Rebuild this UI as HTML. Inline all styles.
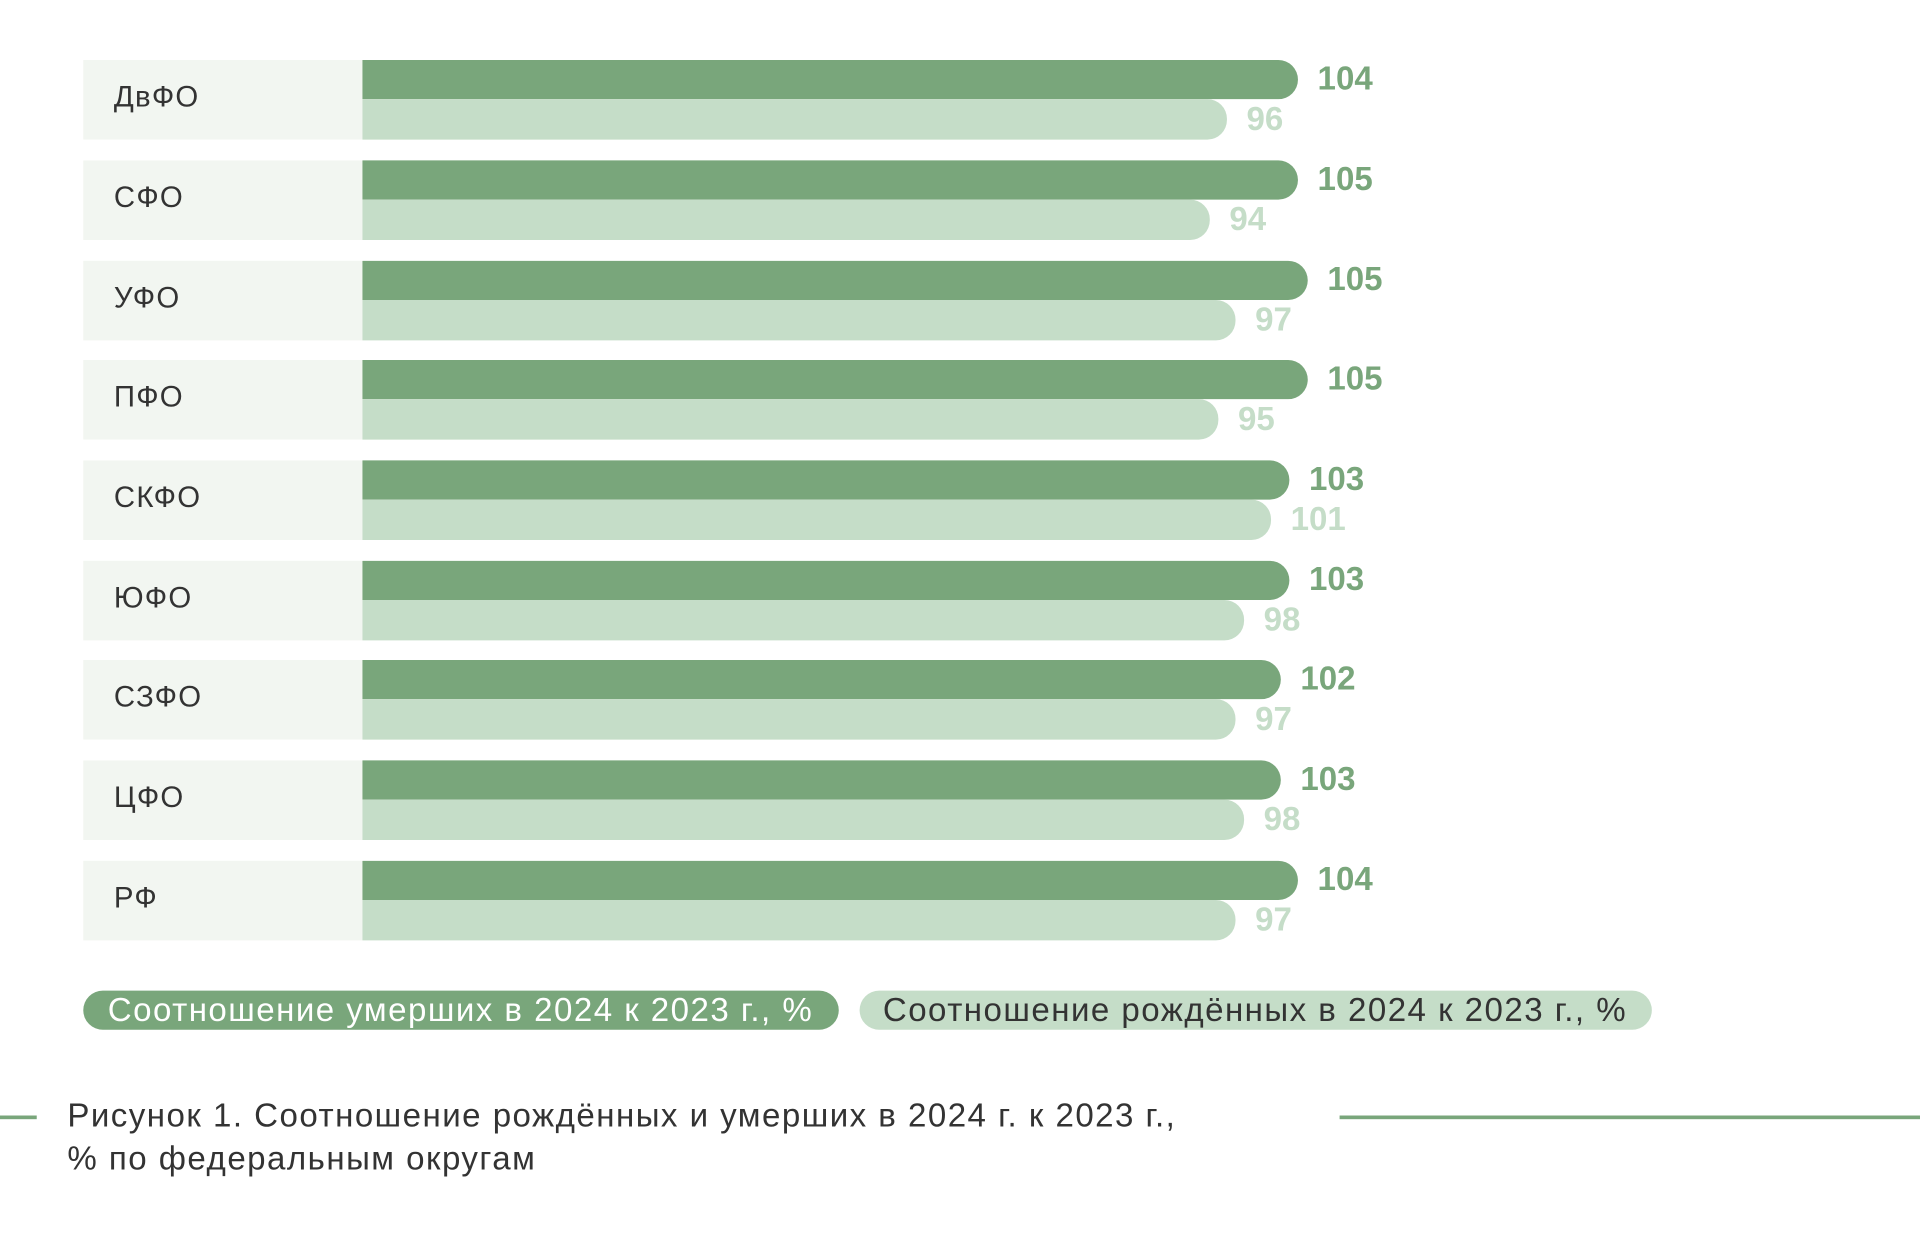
<!DOCTYPE html>
<html><head><meta charset="utf-8"><style>
html,body{margin:0;padding:0;background:#fff;width:1920px;height:1244px;overflow:hidden}
#s{position:absolute;left:0;top:0;width:1568px;height:1016px;transform:scale(1.22449);transform-origin:0 0;font-family:"Liberation Sans",sans-serif}
.bg{position:absolute;left:68px;width:228px;height:65px;background:#f2f6f1}
.lab{position:absolute;left:93px;font-size:24px;color:#333;line-height:61px;height:65px;letter-spacing:1px}
.d,.l{position:absolute;left:296px;height:32px;border-radius:0 16px 16px 0}
.d{background:#79a67b}
.l{background:#c5ddc8;height:33px}
.vd,.vl{position:absolute;font-weight:bold;font-size:27px;line-height:32px;letter-spacing:0px}
.vd{color:#79a67b}.vl{color:#c5ddc8}
.pill{position:absolute;top:809px;height:32px;border-radius:16px;font-size:27px;line-height:33px;letter-spacing:1.2px;white-space:nowrap}
.cap{position:absolute;left:55px;font-size:27px;color:#333;letter-spacing:1.2px;white-space:nowrap}
.ln{position:absolute;top:911px;height:3px;background:#79a67b}
</style></head><body><div id="s">
<div class="bg" style="top:49px"></div><div class="lab" style="top:49px">ДвФО</div><div class="d" style="top:49px;width:764px"></div><div class="l" style="top:81px;width:706px"></div><div class="vd" style="top:48px;left:1076px">104</div><div class="vl" style="top:81px;left:1018px">96</div>
<div class="bg" style="top:131px"></div><div class="lab" style="top:131px">СФО</div><div class="d" style="top:131px;width:764px"></div><div class="l" style="top:163px;width:692px"></div><div class="vd" style="top:130px;left:1076px">105</div><div class="vl" style="top:163px;left:1004px">94</div>
<div class="bg" style="top:213px"></div><div class="lab" style="top:213px">УФО</div><div class="d" style="top:213px;width:772px"></div><div class="l" style="top:245px;width:713px"></div><div class="vd" style="top:212px;left:1084px">105</div><div class="vl" style="top:245px;left:1025px">97</div>
<div class="bg" style="top:294px"></div><div class="lab" style="top:294px">ПФО</div><div class="d" style="top:294px;width:772px"></div><div class="l" style="top:326px;width:699px"></div><div class="vd" style="top:293px;left:1084px">105</div><div class="vl" style="top:326px;left:1011px">95</div>
<div class="bg" style="top:376px"></div><div class="lab" style="top:376px">СКФО</div><div class="d" style="top:376px;width:757px"></div><div class="l" style="top:408px;width:742px"></div><div class="vd" style="top:375px;left:1069px">103</div><div class="vl" style="top:408px;left:1054px">101</div>
<div class="bg" style="top:458px"></div><div class="lab" style="top:458px">ЮФО</div><div class="d" style="top:458px;width:757px"></div><div class="l" style="top:490px;width:720px"></div><div class="vd" style="top:457px;left:1069px">103</div><div class="vl" style="top:490px;left:1032px">98</div>
<div class="bg" style="top:539px"></div><div class="lab" style="top:539px">СЗФО</div><div class="d" style="top:539px;width:750px"></div><div class="l" style="top:571px;width:713px"></div><div class="vd" style="top:538px;left:1062px">102</div><div class="vl" style="top:571px;left:1025px">97</div>
<div class="bg" style="top:621px"></div><div class="lab" style="top:621px">ЦФО</div><div class="d" style="top:621px;width:750px"></div><div class="l" style="top:653px;width:720px"></div><div class="vd" style="top:620px;left:1062px">103</div><div class="vl" style="top:653px;left:1032px">98</div>
<div class="bg" style="top:703px"></div><div class="lab" style="top:703px">РФ</div><div class="d" style="top:703px;width:764px"></div><div class="l" style="top:735px;width:713px"></div><div class="vd" style="top:702px;left:1076px">104</div><div class="vl" style="top:735px;left:1025px">97</div>
<div class="pill" style="left:68px;width:597px;padding-left:20px;background:#79a67b;color:#fff">Соотношение умерших в 2024 к 2023 г., %</div>
<div class="pill" style="left:702px;width:628px;padding-left:19px;background:#c5ddc8;color:#333">Соотношение рождённых в 2024 к 2023 г., %</div>
<div class="ln" style="left:0;width:30px"></div>
<div class="ln" style="left:1094px;width:474px"></div>
<div class="cap" style="top:896px">Рисунок 1. Соотношение рождённых и умерших в 2024 г. к 2023 г.,</div>
<div class="cap" style="top:931px">% по федеральным округам</div>
</div></body></html>
